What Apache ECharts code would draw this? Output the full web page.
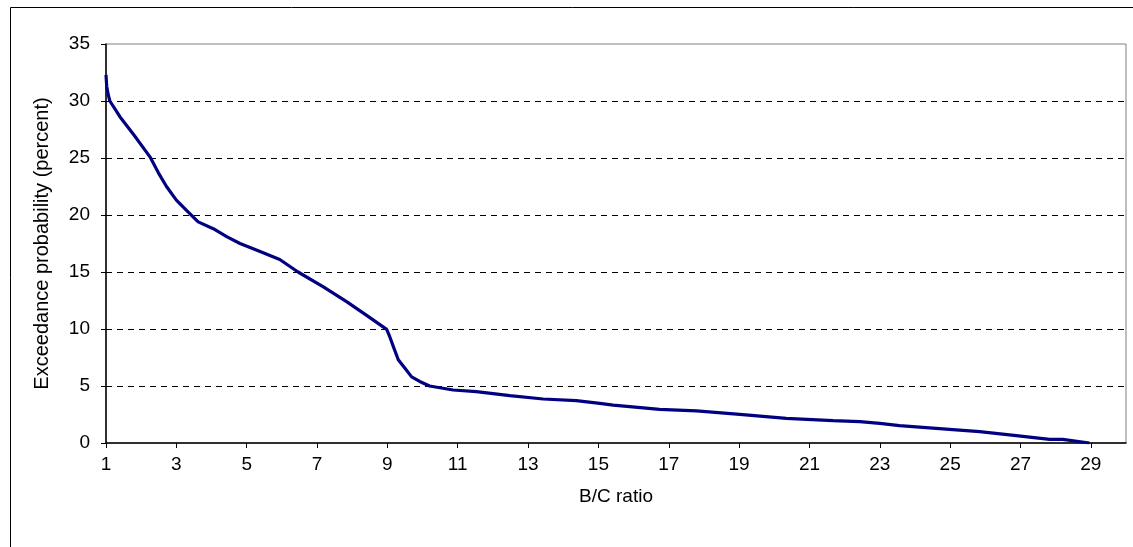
<!DOCTYPE html>
<html>
<head>
<meta charset="utf-8">
<script src="https://cdn.jsdelivr.net/npm/echarts@6/dist/echarts.min.js"></script>
<style>
html,body{margin:0;padding:0;background:#fff;}
#chart{width:1133px;height:547px;}
</style>
</head>
<body>
<div id="chart"></div>
<script>
const bcRatio = [1.0, 1.02, 1.06, 1.11, 1.4, 1.8, 2.25, 2.49, 2.72, 3.0, 3.29, 3.62, 4.05, 4.43, 4.81, 5.38, 5.94, 6.46, 7.18, 7.84, 8.41, 8.98, 9.07, 9.17, 9.31, 9.5, 9.69, 9.92, 10.2, 10.87, 11.53, 12.48, 13.43, 14.37, 15.04, 15.42, 16.74, 17.79, 19.02, 20.34, 21.67, 22.43, 23.0, 23.56, 24.98, 25.84, 26.88, 27.83, 28.2, 28.96];
const exceedance = [32.3, 31.3, 30.6, 30.0, 28.6, 27.0, 25.1, 23.7, 22.5, 21.3, 20.4, 19.4, 18.8, 18.1, 17.5, 16.8, 16.1, 15.0, 13.7, 12.4, 11.2, 9.97, 9.3, 8.45, 7.3, 6.55, 5.8, 5.4, 5.0, 4.65, 4.5, 4.15, 3.86, 3.71, 3.48, 3.33, 2.95, 2.81, 2.51, 2.16, 1.96, 1.87, 1.72, 1.52, 1.2, 0.99, 0.64, 0.32, 0.32, 0.0];
const xTickLabels = [1, 3, 5, 7, 9, 11, 13, 15, 17, 19, 21, 23, 25, 27, 29];
const xTitle = 'B/C ratio';
const yTitle = 'Exceedance probability (percent)';

const chart = echarts.init(document.getElementById('chart'), null, {renderer: 'canvas'});
const font = 'Liberation Sans, Arial, sans-serif';
chart.setOption({
  animation: false,
  backgroundColor: '#fff',
  grid: {left: 106, top: 44, right: 7, bottom: 104, show: true, borderColor: '#808080', borderWidth: 1, backgroundColor: 'transparent'},
  graphic: [{
    type: 'rect', left: 8, top: 5, shape: {width: 1200, height: 600},
    style: {fill: 'none', stroke: '#000', lineWidth: 1}, silent: true, z: -1
  }],
  xAxis: {
    type: 'value', min: 1, max: 30,
    name: xTitle, nameLocation: 'middle', nameGap: 44,
    nameTextStyle: {color: '#000', fontSize: 19, fontFamily: font},
    axisLine: {show: true, lineStyle: {color: '#000', width: 1.5}},
    axisTick: {show: true, length: 5, lineStyle: {color: '#000'}, customValues: xTickLabels},
    axisLabel: {color: '#000', fontSize: 19, fontFamily: font, margin: 12, customValues: xTickLabels},
    splitLine: {show: false}
  },
  yAxis: {
    type: 'value', min: 0, max: 35, interval: 5,
    name: yTitle, nameLocation: 'middle', nameGap: 54, nameRotate: 90,
    nameTextStyle: {color: '#000', fontSize: 20, fontFamily: font},
    axisLine: {show: true, lineStyle: {color: '#000', width: 1.5}},
    axisTick: {show: true, length: 5, lineStyle: {color: '#000'}},
    axisLabel: {color: '#000', fontSize: 19, fontFamily: font, margin: 16},
    splitLine: {show: true, showMinLine: false, showMaxLine: false, lineStyle: {color: '#000', type: [6, 5], width: 1}}
  },
  series: [{
    type: 'line',
    data: bcRatio.map((x, i) => [x, exceedance[i]]),
    showSymbol: false,
    lineStyle: {color: '#000080', width: 3.2},
    itemStyle: {color: '#000080'}
  }]
});
</script>
</body>
</html>
